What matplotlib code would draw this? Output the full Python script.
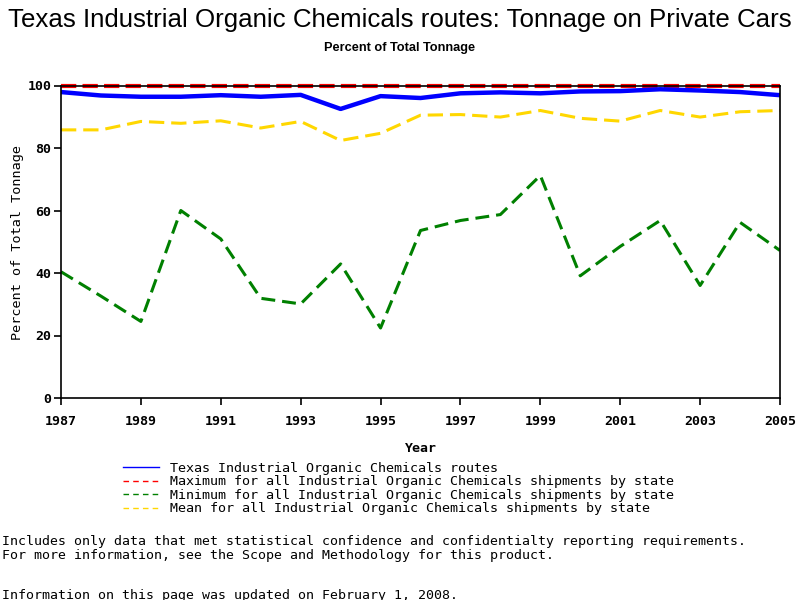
import matplotlib
matplotlib.use("Agg")
import matplotlib.pyplot as plt
from matplotlib.lines import Line2D

years = list(range(1987, 2006))
texas = [97.9, 96.8, 96.4, 96.4, 96.9, 96.4, 97.0, 92.5, 96.6, 96.0,
         97.5, 97.8, 97.5, 98.1, 98.2, 98.8, 98.4, 97.9, 96.9]
maximum = [100] * 19
minimum = [40.4, 32.6, 24.5, 60.0, 50.9, 31.9, 30.1, 42.9, 22.4, 53.6,
           56.8, 58.7, 71.2, 39.1, 48.5, 56.8, 36.0, 56.2, 47.2]
mean = [85.8, 85.8, 88.5, 87.9, 88.7, 86.4, 88.5, 82.4, 84.7, 90.5,
        90.7, 89.9, 92.0, 89.5, 88.6, 92.0, 89.9, 91.6, 92.0]
xticks = list(range(1987, 2006, 2))
yticks = [0, 20, 40, 60, 80, 100]
labels = ["Texas Industrial Organic Chemicals routes",
          "Maximum for all Industrial Organic Chemicals shipments by state",
          "Minimum for all Industrial Organic Chemicals shipments by state",
          "Mean for all Industrial Organic Chemicals shipments by state"]
colors = ["#0000ff", "#ff0000", "#008000", "#ffd700"]

plt.rcParams['lines.scale_dashes'] = False
mono = "DejaVu Sans Mono"

fig = plt.figure(figsize=(8, 6), dpi=100)
ax = fig.add_axes([61/800, 1-398/600, (780-61)/800, (398-85.5)/600])

ax.plot(years, mean, color=colors[3], lw=2.2, dashes=(11, 5), zorder=2)
ax.plot(years, minimum, color=colors[2], lw=2.2, dashes=(10, 5), zorder=2)
ax.plot(years, texas, color=colors[0], lw=3.2, zorder=3, solid_capstyle='butt')
ax.plot(years, maximum, color=colors[1], lw=3.0, dashes=(11, 4.5), zorder=2, clip_on=False)

ax.set_xlim(1987, 2005)
ax.set_ylim(0, 100)
ax.set_xticks(xticks)
ax.set_yticks(yticks)
for s in ax.spines.values():
    s.set_linewidth(1.2)
    s.set_zorder(4)
ax.tick_params(axis='both', direction='out', length=5, width=1.2)
ax.tick_params(axis='x', pad=7)
ax.tick_params(axis='y', pad=2)
for lab in ax.get_xticklabels() + ax.get_yticklabels():
    lab.set_fontfamily(mono)
    lab.set_fontweight('bold')
    lab.set_fontsize(9.5)

ax.set_xlabel("Year", fontfamily=mono, fontweight='bold', fontsize=9.5)
ax.xaxis.set_label_coords(0.5, -0.14)
fig.text(18/800, 1-242/600, "Percent of Total Tonnage", rotation=90,
         ha='center', va='center', fontfamily=mono, fontsize=9.7)

fig.text(0.5, 1-20/600, "Texas Industrial Organic Chemicals routes: Tonnage on Private Cars",
         ha='center', va='center', fontfamily='Liberation Sans', fontsize=18.6)
fig.text(0.5, 1-48/600, "Percent of Total Tonnage", ha='center', va='center',
         fontfamily='Liberation Sans', fontweight='bold', fontsize=9.2)

handles = [Line2D([], [], color=colors[0], lw=1),
           Line2D([], [], color=colors[1], lw=1, dashes=(4, 3)),
           Line2D([], [], color=colors[2], lw=1, dashes=(4, 3)),
           Line2D([], [], color=colors[3], lw=1, dashes=(4, 3))]
fig.legend(handles=handles, labels=labels, loc='upper left',
           bbox_to_anchor=(123/800, 1-462/600), frameon=False,
           prop={'family': mono, 'size': 9.6}, handlelength=2.7,
           handletextpad=0.85, labelspacing=0.03, borderaxespad=0, borderpad=0)

fig.text(2/800, 1-542/600,
         "Includes only data that met statistical confidence and confidentialty reporting requirements.",
         ha='left', va='center', fontfamily=mono, fontsize=9.5)
fig.text(2/800, 1-556/600,
         "For more information, see the Scope and Methodology for this product.",
         ha='left', va='center', fontfamily=mono, fontsize=9.5)
fig.text(2/800, 1-595/600,
         "Information on this page was updated on February 1, 2008.",
         ha='left', va='center', fontfamily=mono, fontsize=9.5)

fig.savefig("out.png", dpi=100)
